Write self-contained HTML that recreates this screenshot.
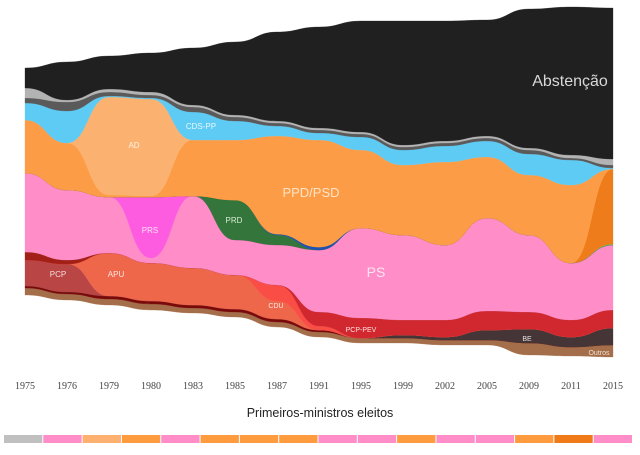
<!DOCTYPE html>
<html><head><meta charset="utf-8">
<style>
html,body{margin:0;padding:0;background:#fff;}
body{width:640px;height:455px;overflow:hidden;font-family:"Liberation Sans",sans-serif;}
svg{display:block;}
</style></head>
<body>
<svg id="chart" width="640" height="455" viewBox="0 0 640 455" xmlns="http://www.w3.org/2000/svg">
<g id="layers"></g>
<g id="labels" font-family="Liberation Sans, sans-serif">
<text x="570" y="86" font-size="16" fill="#d8d8d8" text-anchor="middle">Abstenção</text>
<text x="311" y="197" font-size="13" fill="#fde3c6" text-anchor="middle">PPD/PSD</text>
<text x="376" y="277" font-size="14" fill="#ffe3f1" text-anchor="middle">PS</text>
<text x="134" y="148" font-size="8" fill="#fff3e6" text-anchor="middle">AD</text>
<text x="201" y="129" font-size="8" fill="#e6f7ff" text-anchor="middle">CDS-PP</text>
<text x="150" y="233" font-size="8" fill="#ffe3f8" text-anchor="middle">PRS</text>
<text x="234" y="223" font-size="8" fill="#d9ecd9" text-anchor="middle">PRD</text>
<text x="58" y="277" font-size="8" fill="#f5dcdc" text-anchor="middle">PCP</text>
<text x="116" y="277" font-size="8" fill="#ffe6df" text-anchor="middle">APU</text>
<text x="276" y="308" font-size="7" fill="#ffe6e6" text-anchor="middle">CDU</text>
<text x="361" y="332" font-size="7" fill="#ffe0e0" text-anchor="middle">PCP-PEV</text>
<text x="527" y="341" font-size="7" fill="#e8e0e0" text-anchor="middle">BE</text>
<text x="599" y="355" font-size="7" fill="#f0e0d0" text-anchor="middle">Outros</text>
</g>
<g id="xaxis"></g>
<text x="320" y="417" font-size="12.5" fill="#222" text-anchor="middle" font-family="Liberation Sans, sans-serif">Primeiros-ministros eleitos</text>
<g id="pmbar"></g>
</svg>
<script>
const years = ["1975","1976","1979","1980","1983","1985","1987","1991","1995","1999","2002","2005","2009","2011","2015"];
const baseline = [295,300,305,310,313,317,327,337,343,343,345,345,355,356,357];
const outros   = [7,6,6,6,5,5,5,5,5,5,5,5,12,9,12];
const maroon   = [2,2,3,3,3,3,3,2,0,0,0,0,0,0,0];
const be       = [0,0,0,0,0,0,0,0,0,3,3,10,14,10,17];
const pcp      = [26,28,0,0,0,0,0,0,0,0,0,0,0,0,0];
const apu      = [0,0,43,38,37,34,18,0,0,0,0,0,0,0,0];
const cdu      = [0,0,0,0,0,0,16,4,0,0,0,0,0,0,0];
const pcpPev   = [0,0,0,0,0,0,0,14,20,15,17,19,17,17,18];
const strip    = [8,4,0,0,0,0,0,0,0,0,0,0,0,0,0];
const ps       = [79,70,56,5,72,35,40,62,90,85,75,93,77,57,65];
const prs      = [0,0,0,61,0,0,0,0,0,0,0,0,0,0,0];
const prd      = [0,0,0,0,0,40,10,0,0,0,0,0,0,0,0];
const psn      = [0,0,0,0,0,0,1,3,0,0,0,0,0,0,0];
const green    = [0,0,0,0,0,0,0,0,0,0,0,0,0,0,1];
const pafOrange= [0,0,0,0,0,0,0,0,0,0,0,0,0,0,75];
const psd      = [53,47,2,1,56,60,98,107,78,70,83,61,60,78,0];
const ad       = [0,0,98,97,0,0,0,0,0,0,0,0,0,0,0];
const cds      = [17,32,1,1,28,19,10,7,13,15,16,16,21,25,1];
const darkGrey = [5,9,4,3,5,4,3,3,3,3,3,3,4,2,3];
const lightGrey= [10,2,3,3,2,2,2,2,2,2,2,2,2,3,6];
const abstencao= [20,38,33,39,57,73,89,101,111,124,120,116,139,148,151];
const pmColors = ["#c0c0c0","#fe8dc8","#fdb070","#fd9b3e","#fe8dc8","#fd9b3e","#fd9b3e","#fd9b3e","#fe8dc8","#fe8dc8","#fd9b3e","#fe8dc8","#fe8dc8","#fd9b3e","#f07a18","#fe8dc8"];

const layerDefs = [
 ["outros", outros, "#a56e4a"],
 ["udp-maroon", maroon, "#7a0a0a"],
 ["be", be, "#453536"],
 ["pcp", pcp, "#b94545"],
 ["apu", apu, "#ee674b"],
 ["cdu", cdu, "#fa4d46"],
 ["pcp-pev", pcpPev, "#d1282f"],
 ["far-left-strip", strip, "#a32018"],
 ["ps", ps, "#fe8dc8"],
 ["prs", prs, "#fe5ce0"],
 ["prd", prd, "#33753a"],
 ["psn", psn, "#2050b0"],
 ["pan", green, "#7ab648"],
 ["paf", pafOrange, "#ef7c1a"],
 ["ppd-psd", psd, "#fd9c46"],
 ["ad", ad, "#fbb170"],
 ["cds-pp", cds, "#5ecbf5"],
 ["others-dark-grey", darkGrey, "#5a5a5a"],
 ["others-light-grey", lightGrey, "#b3b3b3"],
 ["abstencao", abstencao, "#202020"]
];

const x0 = 25, x1 = 613, k = 1;
function xPos(i){ return x0 + (x1 - x0) * i / (years.length - 1); }
function yPos(v){ return v * k; }

function curve(pts){
  let d = "";
  for (let i = 1; i < pts.length; i++){
    const [ax, ay] = pts[i-1], [bx, by] = pts[i];
    const m = (bx - ax) / 2;
    d += ` C${ax + m},${ay} ${bx - m},${by} ${bx},${by}`;
  }
  return d;
}

const NS = "http://www.w3.org/2000/svg";
const gL = document.getElementById("layers");
let bottom = baseline.slice();
layerDefs.forEach(([name, vals, color]) => {
  const top = bottom.map((b, i) => b - vals[i]);
  const topPts = top.map((v, i) => [xPos(i), yPos(v)]);
  const botPts = bottom.map((v, i) => [xPos(i), yPos(v)]).reverse();
  const d = `M${topPts[0][0]},${topPts[0][1]}` + curve(topPts) +
            ` L${botPts[0][0]},${botPts[0][1]}` + curve(botPts) + " Z";
  const p = document.createElementNS(NS, "path");
  p.setAttribute("d", d);
  p.setAttribute("fill", color);
  p.setAttribute("stroke", color);
  p.setAttribute("stroke-width", "0.3");
  
  
  gL.appendChild(p);
  bottom = top;
});

const gX = document.getElementById("xaxis");
years.forEach((y, i) => {
  const t = document.createElementNS(NS, "text");
  t.setAttribute("x", xPos(i));
  t.setAttribute("y", 389);
  t.setAttribute("font-size", "10");
  t.setAttribute("font-family", "Liberation Serif, serif");
  t.setAttribute("fill", "#444");
  t.setAttribute("text-anchor", "middle");
  t.textContent = y;
  
  
  gX.appendChild(t);
});

const gP = document.getElementById("pmbar");
const bx0 = 4, bw = (633 - 4) / pmColors.length;
pmColors.forEach((c, i) => {
  const r = document.createElementNS(NS, "rect");
  r.setAttribute("x", bx0 + i * bw);
  r.setAttribute("y", 435);
  r.setAttribute("width", bw - 1);
  r.setAttribute("height", 8);
  r.setAttribute("fill", c);
  
  
  gP.appendChild(r);
});
</script>
</body></html>
